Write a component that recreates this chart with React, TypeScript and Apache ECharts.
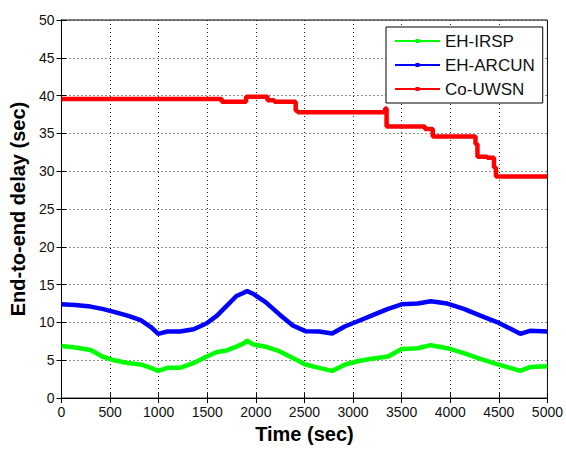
import React, { useEffect, useRef } from "react";
import * as echarts from "echarts";

const xTicks = [0, 500, 1000, 1500, 2000, 2500, 3000, 3500, 4000, 4500, 5000];
const yTicks = [0, 5, 10, 15, 20, 25, 30, 35, 40, 45, 50];

const seriesNames = ["EH-IRSP", "EH-ARCUN", "Co-UWSN"];

// Shared time samples (sec) for EH-IRSP and EH-ARCUN
const timeSamples = [
  0, 140, 300, 420, 540, 680, 815, 920, 995, 1090, 1220, 1360, 1495, 1600, 1700,
  1800, 1870, 1910, 1970, 2100, 2240, 2380, 2510, 2650, 2785, 2920, 3055, 3190,
  3360, 3500, 3665, 3800, 3970, 4140, 4310, 4480, 4615, 4720, 4820, 5000,
];

const ehIrsp = [
  6.9, 6.7, 6.35, 5.5, 5.0, 4.65, 4.45, 4.0, 3.6, 4.0, 4.0, 4.65, 5.5, 6.1, 6.3,
  6.8, 7.2, 7.6, 7.1, 6.8, 6.2, 5.3, 4.45, 4.0, 3.6, 4.45, 4.9, 5.2,
  5.5, 6.5, 6.6, 7.0, 6.6, 5.95, 5.2, 4.5, 4.0, 3.6, 4.1, 4.2,
];

const ehArcun = [
  12.4, 12.3, 12.1, 11.8, 11.4, 10.9, 10.3, 9.4, 8.5, 8.8, 8.8, 9.1, 9.9, 10.9, 12.2,
  13.5, 13.9, 14.15, 13.8, 12.7, 11.1, 9.6, 8.85, 8.8, 8.55, 9.5, 10.2, 10.9,
  11.8, 12.4, 12.5, 12.8, 12.5, 11.8, 10.9, 10.05, 9.2, 8.5, 8.9, 8.8,
];

// Co-UWSN step changes (time, value held until next time)
const coUwsnTime = [
  0, 1650, 1900, 2120, 2190, 2410, 2430, 3330, 3345, 3740, 3820, 4260, 4280, 4380,
  4450, 4470, 5000,
];
const coUwsn = [
  39.55, 39.2, 39.85, 39.4, 39.2, 38.0, 37.8, 38.3, 35.9, 35.6, 34.6, 33.6, 31.9, 31.8,
  30.5, 29.3, 29.3,
];

const colors = ["#00ff00", "#0000ff", "#ff0000"];

const legendIcon =
  "path://M0,6 L45,6 L45,8 L0,8 Z M20.5,5 L24.5,5 L24.5,9 L20.5,9 Z";

export default function App() {
  const ref = useRef<HTMLDivElement>(null);

  useEffect(() => {
    document.body.style.margin = "0";
    if (!ref.current) return;
    const chart = echarts.init(ref.current, null, { renderer: "svg" });

    const font = "'Liberation Sans', Arial, sans-serif";
    const pair = (t: number[], v: number[]) => t.map((x, i) => [x, v[i]]);

    const gridLine = {
      show: true,
      lineStyle: { color: "#222", type: [1, 3] as any, width: 1 },
    };

    chart.setOption({
      animation: false,
      backgroundColor: "#ffffff",
      grid: {
        left: 60,
        top: 20,
        right: 15,
        bottom: 43,
        show: true,
        borderColor: "#000",
        borderWidth: 1,
        backgroundColor: "transparent",
      },
      legend: {
        orient: "vertical",
        left: 386,
        top: 27,
        width: 159,
        itemWidth: 45,
        itemHeight: 14,
        itemGap: 6,
        padding: [5, 8, 5, 9],
        backgroundColor: "#fff",
        borderColor: "#000",
        borderWidth: 1,
        borderRadius: 0,
        textStyle: { fontFamily: font, fontSize: 17, color: "#111", lineHeight: 18 },
        data: seriesNames.map((n) => ({ name: n, icon: legendIcon })),
      },
      xAxis: [
        {
          type: "value",
          min: 0,
          max: 5000,
          interval: 500,
          name: "Time (sec)",
          nameLocation: "middle",
          nameGap: 23,
          nameTextStyle: { fontFamily: font, fontSize: 20, fontWeight: "bold", color: "#000" },
          axisLine: { show: true, lineStyle: { color: "#000", width: 1 } },
          axisTick: { show: true, inside: true, length: 5, lineStyle: { color: "#000" } },
          axisLabel: {
            fontFamily: font,
            fontSize: 14,
            color: "#111",
            margin: 7,
            formatter: (v: number) => (xTicks.includes(v) ? String(v) : ""),
          },
          splitLine: gridLine,
        },
        {
          type: "value",
          position: "top",
          min: 0,
          max: 5000,
          interval: 500,
          axisLine: { show: true, lineStyle: { color: "#000", width: 1 } },
          axisTick: { show: true, inside: true, length: 5, lineStyle: { color: "#000" } },
          axisLabel: { show: false },
          splitLine: { show: false },
        },
      ],
      yAxis: [
        {
          type: "value",
          min: 0,
          max: 50,
          interval: 5,
          name: "End-to-end delay (sec)",
          nameLocation: "middle",
          nameGap: 29,
          nameTextStyle: { fontFamily: font, fontSize: 20, fontWeight: "bold", color: "#000" },
          axisLine: { show: true, lineStyle: { color: "#000", width: 1 } },
          axisTick: { show: true, inside: true, length: 5, lineStyle: { color: "#000" } },
          axisLabel: {
            fontFamily: font,
            fontSize: 14,
            color: "#111",
            margin: 7,
            formatter: (v: number) => (yTicks.includes(v) ? String(v) : ""),
          },
          splitLine: gridLine,
        },
        {
          type: "value",
          position: "right",
          min: 0,
          max: 50,
          interval: 5,
          axisLine: { show: true, lineStyle: { color: "#000", width: 1 } },
          axisTick: { show: true, inside: true, length: 5, lineStyle: { color: "#000" } },
          axisLabel: { show: false },
          splitLine: { show: false },
        },
      ],
      series: [
        {
          name: seriesNames[0],
          type: "line",
          data: pair(timeSamples, ehIrsp),
          color: colors[0],
          symbol: "rect",
          symbolSize: 4,
          showSymbol: false,
          lineStyle: { width: 4.5, color: colors[0] },
          z: 3,
        },
        {
          name: seriesNames[1],
          type: "line",
          data: pair(timeSamples, ehArcun),
          color: colors[1],
          symbol: "rect",
          symbolSize: 4,
          showSymbol: false,
          lineStyle: { width: 4.5, color: colors[1] },
          z: 3,
        },
        {
          name: seriesNames[2],
          type: "line",
          step: "end",
          data: pair(coUwsnTime, coUwsn),
          color: colors[2],
          symbol: "rect",
          symbolSize: 4,
          showSymbol: false,
          lineStyle: { width: 4.5, color: colors[2] },
          z: 3,
        },
      ],
    });

    return () => chart.dispose();
  }, []);

  return <div ref={ref} style={{ width: 566, height: 449 }} />;
}
